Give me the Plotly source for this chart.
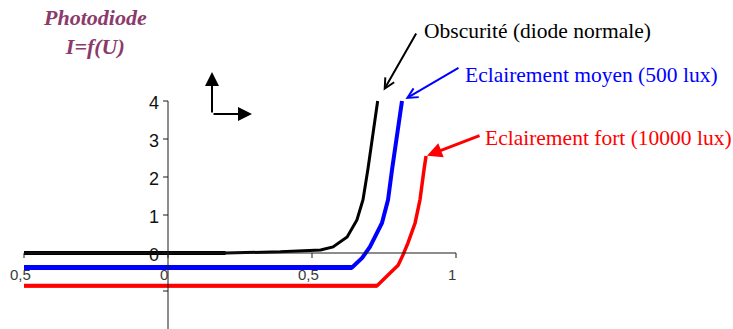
import plotly.graph_objects as go

# I = f(U) characteristics of a photodiode for three lighting levels
u_dark = [-0.5, 0.2, 0.39, 0.53, 0.573, 0.622, 0.656, 0.677, 0.694, 0.712, 0.728]
i_dark = [0.0, 0.0, 0.03, 0.08, 0.16, 0.42, 0.87, 1.4, 2.2, 3.1, 4.0]

u_mid = [-0.5, 0.639, 0.674, 0.701, 0.743, 0.764, 0.778, 0.795, 0.8125]
i_mid = [-0.38, -0.38, -0.13, 0.16, 0.79, 1.4, 2.2, 3.1, 4.0]

u_strong = [-0.5, 0.726, 0.764, 0.799, 0.816, 0.833, 0.858, 0.875, 0.889, 0.896]
i_strong = [-0.86, -0.86, -0.58, -0.32, -0.05, 0.26, 0.79, 1.4, 2.2, 2.55]

x_ticks = [-0.5, 0, 0.5, 1]
x_tick_labels = ["0,5", "0", "0,5", "1"]
y_ticks = [4, 3, 2, 1, 0, -1]
y_tick_labels = ["4", "3", "2", "1", "0", ""]

labels = ["Obscurité (diode normale)", "Eclairement moyen (500 lux)", "Eclairement fort (10000 lux)"]
colors = ["#000000", "#0000ff", "#ff0000"]

W, H = 733, 329
# axis geometry (pixels): origin and scale
X0_PX, Y0_PX, PX_PER_U, PX_PER_I = 168, 253, 288, 38
x_range = [-X0_PX / PX_PER_U, (W - X0_PX) / PX_PER_U]
y_range = [(Y0_PX - H) / PX_PER_I, Y0_PX / PX_PER_I]


def px(x):
    return x / W


def py(y):
    return 1 - y / H


fig = go.Figure()

# flat (reverse) part drawn a little heavier than the rising part
flat_widths = [4, 5, 4]
rise_widths = [3, 4, 3.5]
for u, i, c, wf, wr in zip([u_dark, u_mid, u_strong], [i_dark, i_mid, i_strong], colors,
                           flat_widths, rise_widths):
    fig.add_trace(go.Scatter(x=u, y=i, mode="lines", line=dict(color=c, width=wr),
                             hoverinfo="skip", showlegend=False))
    fig.add_trace(go.Scatter(x=u[:2], y=i[:2], mode="lines", line=dict(color=c, width=wf),
                             hoverinfo="skip", showlegend=False))

shapes = []
axis_col = "#1a1a1a"
# x axis from first to last tick, crossing at I = 0
shapes.append(dict(type="line", xref="x", yref="y", x0=x_ticks[0], x1=x_ticks[-1], y0=0, y1=0,
                   line=dict(color=axis_col, width=1)))
# y axis from the top tick down to the bottom of the range
shapes.append(dict(type="line", xref="x", yref="y", x0=0, x1=0, y0=y_range[0], y1=y_ticks[0],
                   line=dict(color=axis_col, width=1)))
for t in x_ticks:
    shapes.append(dict(type="line", xref="x", yref="y", ysizemode="pixel", yanchor=0,
                       x0=t, x1=t, y0=-5, y1=0, line=dict(color=axis_col, width=1)))
for t in y_ticks:
    shapes.append(dict(type="line", xref="x", yref="y", xsizemode="pixel", xanchor=0,
                       x0=-5, x1=0, y0=t, y1=t, line=dict(color=axis_col, width=1)))

annotations = []
for t, lab in zip(x_ticks, x_tick_labels):
    annotations.append(dict(x=t, y=0, xref="x", yref="y", text=lab, showarrow=False,
                            xanchor="center", yanchor="middle", xshift=-4, yshift=-21,
                            font=dict(family="Liberation Sans, Arial", size=15, color="#3a3a3a")))
for t, lab in zip(y_ticks, y_tick_labels):
    if lab:
        annotations.append(dict(x=0, y=t, xref="x", yref="y", text=lab, showarrow=False,
                                xanchor="right", yanchor="middle", xshift=-7, yshift=-2,
                                font=dict(family="Liberation Sans, Arial", size=18, color="#111111")))

# title
annotations.append(dict(x=px(95), y=py(32), xref="paper", yref="paper",
                        text="<b><i>Photodiode<br>I=f(U)</i></b>", showarrow=False,
                        xanchor="center", yanchor="middle", align="center",
                        font=dict(family="Liberation Serif, Times New Roman", size=22, color="#8b3a6b")))

# callouts pointing at the end of each curve
label_pos = [(422, 31), (463, 75), (483, 138)]
arrow_tail = [(417, 32), (460, 67), (481, 135)]
heads = [5, 5, 2]
aw = [2, 2, 3]
standoffs = [12, 4, 1]
for k, (u, i) in enumerate([(u_dark, i_dark), (u_mid, i_mid), (u_strong, i_strong)]):
    tip_px = (X0_PX + u[-1] * PX_PER_U, Y0_PX - i[-1] * PX_PER_I)
    annotations.append(dict(x=u[-1], y=i[-1], xref="x", yref="y", text="", showarrow=True,
                            ax=arrow_tail[k][0] - tip_px[0], ay=arrow_tail[k][1] - tip_px[1],
                            arrowhead=heads[k], arrowwidth=aw[k], arrowsize=1, arrowcolor=colors[k],
                            standoff=standoffs[k]))
    annotations.append(dict(x=px(label_pos[k][0]), y=py(label_pos[k][1]), xref="paper", yref="paper",
                            text=labels[k], showarrow=False, xanchor="left", yanchor="middle",
                            font=dict(family="Liberation Serif, Times New Roman", size=21.5,
                                      color=colors[k])))

# small axes symbol
for tx, ty in [(212, 72), (252, 114)]:
    annotations.append(dict(x=px(tx), y=py(ty), xref="paper", yref="paper", text="",
                            showarrow=True, axref="pixel", ayref="pixel",
                            ax=212 - tx, ay=114 - ty, arrowhead=2, arrowwidth=2, arrowsize=1.4,
                            arrowcolor="#000000"))

fig.update_layout(
    width=W, height=H, autosize=False,
    margin=dict(l=0, r=0, t=0, b=0),
    paper_bgcolor="white", plot_bgcolor="white",
    xaxis=dict(range=x_range, visible=False, fixedrange=True),
    yaxis=dict(range=y_range, visible=False, fixedrange=True),
    shapes=shapes, annotations=annotations,
)

fig.write_html("out.html", config={"displayModeBar": False})
